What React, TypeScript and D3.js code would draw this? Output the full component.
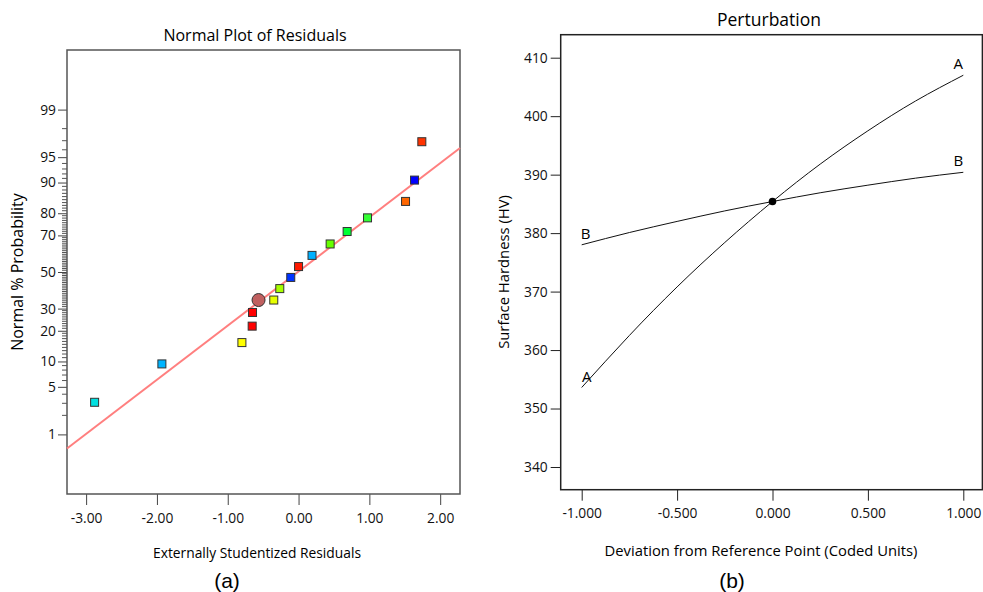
import React, { useEffect, useRef } from "react";
import * as d3 from "d3";

// ---- (a) Normal plot of residuals ----
const residuals = [-2.88, -1.93, -0.8, -0.655, -0.65, -0.35, -0.265, -0.11, 0.0, 0.19, 0.446, 0.686, 0.974, 1.511, 1.638, 1.741];
const normalProb = [3.1, 9.4, 15.6, 21.9, 28.1, 34.4, 40.6, 46.9, 53.1, 59.4, 65.6, 71.9, 78.1, 84.4, 90.6, 96.9];
const pointColors = [
  "#00e0e0", "#00b4ff", "#ffff00", "#ff0000", "#ff0000", "#e6ff00", "#a8ff00", "#0033ff",
  "#ff1a00", "#00b0ff", "#66ff00", "#00ff33", "#33ff33", "#ff6600", "#0000ff", "#ff3300",
];
const highlightResidual = -0.565;
const highlightProb = 34.4;
const fitMean = -0.01;
const fitSd = 1.29;
const residualTicks = [-3, -2, -1, 0, 1, 2];
const probTicks = [1, 5, 10, 20, 30, 50, 70, 80, 90, 95, 99];

// ---- (b) Perturbation ----
const deviation = [-1, -0.75, -0.5, -0.25, 0, 0.25, 0.5, 0.75, 1];
const hardnessA = [353.6, 362.5, 370.8, 378.4, 385.4, 391.8, 397.5, 402.6, 407.0];
const hardnessB = [378.0, 380.1, 382.0, 383.8, 385.4, 386.9, 388.2, 389.4, 390.4];
const refHardness = 385.4;
const hardnessTicks = [340, 350, 360, 370, 380, 390, 400, 410];
const deviationTicks = [-1, -0.5, 0, 0.5, 1];

const FONT = "'Open Sans', sans-serif";

// plain hyphen instead of d3's unicode minus
const fmt = (spec: string) => {
  const f = d3.format(spec);
  return (v: d3.NumberValue) => f(v).replace("\u2212", "-");
};

// inverse normal cdf (Acklam)
function probit(p: number): number {
  const a = [-3.969683028665376e1, 2.209460984245205e2, -2.759285104469687e2, 1.38357751867269e2, -3.066479806614716e1, 2.506628277459239];
  const b = [-5.447609879822406e1, 1.615858368580409e2, -1.556989798598866e2, 6.680131188771972e1, -1.328068155288572e1];
  const c = [-7.784894002430293e-3, -3.223964580411365e-1, -2.400758277161838, -2.549732539343734, 4.374664141464968, 2.938163982698783];
  const d = [7.784695709041462e-3, 3.224671290700398e-1, 2.445134137142996, 3.754408661907416];
  const pl = 0.02425;
  if (p < pl) {
    const q = Math.sqrt(-2 * Math.log(p));
    return (((((c[0] * q + c[1]) * q + c[2]) * q + c[3]) * q + c[4]) * q + c[5]) / ((((d[0] * q + d[1]) * q + d[2]) * q + d[3]) * q + 1);
  }
  if (p > 1 - pl) {
    const q = Math.sqrt(-2 * Math.log(1 - p));
    return -(((((c[0] * q + c[1]) * q + c[2]) * q + c[3]) * q + c[4]) * q + c[5]) / ((((d[0] * q + d[1]) * q + d[2]) * q + d[3]) * q + 1);
  }
  const q = p - 0.5;
  const r = q * q;
  return ((((((a[0] * r + a[1]) * r + a[2]) * r + a[3]) * r + a[4]) * r + a[5]) * q) /
    (((((b[0] * r + b[1]) * r + b[2]) * r + b[3]) * r + b[4]) * r + 1);
}

const App = () => {
  const svgRef = useRef<SVGSVGElement>(null);

  useEffect(() => {
    const svg = d3.select(svgRef.current);
    svg.selectAll("*").remove();

    // ================= (a) =================
    const L = { left: 67, right: 460, top: 50, bottom: 494 };
    const x = d3.scaleLinear().domain([-3.27, 2.28]).range([L.left, L.right]);
    const z = d3.scaleLinear().domain([-3.18, 3.18]).range([L.bottom, L.top]);
    const yProb = (p: number) => z(probit(p / 100));

    const ga = svg.append("g");

    ga.append("text")
      .attr("x", 255).attr("y", 40.5)
      .attr("text-anchor", "middle")
      .attr("font-family", FONT).attr("font-size", 16)
      .text("Normal Plot of Residuals");

    // minor ticks every 1%
    const minor = d3.range(2, 99).filter((p) => !probTicks.includes(p));
    ga.selectAll(".minor")
      .data(minor)
      .enter()
      .append("line")
      .attr("x1", L.left - 5).attr("x2", L.left)
      .attr("y1", (p) => yProb(p)).attr("y2", (p) => yProb(p))
      .attr("stroke", "#555").attr("stroke-width", 1);

    const yAxisA = ga.append("g")
      .attr("transform", `translate(${L.left},0)`)
      .call(
        d3.axisLeft(z)
          .tickValues(probTicks.map((p) => probit(p / 100)))
          .tickFormat((_, i) => String(probTicks[i]))
          .tickSize(9)
          .tickPadding(2)
      );
    yAxisA.select(".domain").remove();
    yAxisA.selectAll("line").attr("stroke", "#444");
    yAxisA.selectAll("text").attr("font-family", FONT).attr("font-size", 13.8).attr("fill", "#111");

    const xAxisA = ga.append("g")
      .attr("transform", `translate(0,${L.bottom})`)
      .call(
        d3.axisBottom(x)
          .tickValues(residualTicks)
          .tickFormat(fmt(".2f"))
          .tickSize(11)
          .tickPadding(8)
      );
    xAxisA.select(".domain").remove();
    xAxisA.selectAll("line").attr("stroke", "#444");
    xAxisA.selectAll("text").attr("font-family", FONT).attr("font-size", 13.8).attr("fill", "#111");

    ga.append("rect")
      .attr("x", L.left).attr("y", L.top)
      .attr("width", L.right - L.left).attr("height", L.bottom - L.top)
      .attr("fill", "none").attr("stroke", "#555").attr("stroke-width", 1.5);

    // fitted normal line
    const [r0, r1] = x.domain();
    ga.append("line")
      .attr("x1", x(r0)).attr("y1", z((r0 - fitMean) / fitSd))
      .attr("x2", x(r1)).attr("y2", z((r1 - fitMean) / fitSd))
      .attr("stroke", "#ff7f7f").attr("stroke-width", 2);

    ga.selectAll(".pt")
      .data(residuals)
      .enter()
      .append("rect")
      .attr("x", (d) => x(d) - 4)
      .attr("y", (_, i) => yProb(normalProb[i]) - 4)
      .attr("width", 8).attr("height", 8)
      .attr("fill", (_, i) => pointColors[i])
      .attr("stroke", "#333").attr("stroke-width", 1);

    ga.append("circle")
      .attr("cx", x(highlightResidual)).attr("cy", yProb(highlightProb))
      .attr("r", 6.5)
      .attr("fill", "#c06060").attr("stroke", "#333").attr("stroke-width", 1);

    ga.append("text")
      .attr("transform", `translate(22.5,272) rotate(-90)`)
      .attr("text-anchor", "middle")
      .attr("font-family", FONT).attr("font-size", 16)
      .text("Normal % Probability");

    ga.append("text")
      .attr("x", 257).attr("y", 558)
      .attr("text-anchor", "middle")
      .attr("font-family", FONT).attr("font-size", 13.8)
      .text("Externally Studentized Residuals");

    ga.append("text")
      .attr("x", 227).attr("y", 588)
      .attr("text-anchor", "middle")
      .attr("font-family", "'Liberation Sans', Arial, sans-serif").attr("font-size", 21)
      .text("(a)");

    // ================= (b) =================
    const R = { left: 560.7, right: 982.4, top: 34.7, bottom: 489.7 };
    const xb = d3.scaleLinear().domain([-1, 1]).range([581.7, 963.3]);
    const yb = d3.scaleLinear().domain([340, 410]).range([467, 57.7]);

    const gb = svg.append("g");

    gb.append("text")
      .attr("x", 769).attr("y", 25.5)
      .attr("text-anchor", "middle")
      .attr("font-family", FONT).attr("font-size", 17.5)
      .text("Perturbation");

    const yAxisB = gb.append("g")
      .attr("transform", `translate(${R.left},0)`)
      .call(d3.axisLeft(yb).tickValues(hardnessTicks).tickSize(10).tickPadding(3));
    yAxisB.select(".domain").remove();
    yAxisB.selectAll("line").attr("stroke", "#222");
    yAxisB.selectAll("text").attr("font-family", FONT).attr("font-size", 13.8).attr("fill", "#111");

    const xAxisB = gb.append("g")
      .attr("transform", `translate(0,${R.bottom})`)
      .call(d3.axisBottom(xb).tickValues(deviationTicks).tickFormat(fmt(".3f")).tickSize(11).tickPadding(8));
    xAxisB.select(".domain").remove();
    xAxisB.selectAll("line").attr("stroke", "#222");
    xAxisB.selectAll("text").attr("font-family", FONT).attr("font-size", 13.8).attr("fill", "#111");

    gb.append("rect")
      .attr("x", R.left).attr("y", R.top)
      .attr("width", R.right - R.left).attr("height", R.bottom - R.top)
      .attr("fill", "none").attr("stroke", "#222").attr("stroke-width", 1.5);

    const line = d3.line<number>()
      .x((_, i) => xb(deviation[i]))
      .y((d) => yb(d))
      .curve(d3.curveNatural);

    [hardnessA, hardnessB].forEach((series) => {
      gb.append("path")
        .attr("d", line(series))
        .attr("fill", "none").attr("stroke", "#111").attr("stroke-width", 1);
    });

    gb.append("circle")
      .attr("cx", xb(0)).attr("cy", yb(refHardness))
      .attr("r", 3.8).attr("fill", "#000");

    const n = deviation.length - 1;
    const curveLabels = [
      { t: "A", x: xb(deviation[n]) - 5, y: yb(hardnessA[n]) - 6 },
      { t: "B", x: xb(deviation[n]) - 5, y: yb(hardnessB[n]) - 6 },
      { t: "B", x: xb(deviation[0]) + 4, y: yb(hardnessB[0]) - 6 },
      { t: "A", x: xb(deviation[0]) + 5, y: yb(hardnessA[0]) - 5 },
    ];
    gb.selectAll(".clab")
      .data(curveLabels)
      .enter()
      .append("text")
      .attr("x", (d) => d.x).attr("y", (d) => d.y)
      .attr("text-anchor", "middle")
      .attr("font-family", FONT).attr("font-size", 15)
      .text((d) => d.t);

    gb.append("text")
      .attr("transform", `translate(509,272) rotate(-90)`)
      .attr("text-anchor", "middle")
      .attr("font-family", FONT).attr("font-size", 14.8)
      .text("Surface Hardness (HV)");

    gb.append("text")
      .attr("x", 761).attr("y", 555.5)
      .attr("text-anchor", "middle")
      .attr("font-family", FONT).attr("font-size", 14.8)
      .text("Deviation from Reference Point (Coded Units)");

    gb.append("text")
      .attr("x", 732).attr("y", 588)
      .attr("text-anchor", "middle")
      .attr("font-family", "'Liberation Sans', Arial, sans-serif").attr("font-size", 21)
      .text("(b)");
  }, []);

  return (
    <svg
      ref={svgRef}
      width={983}
      height={592}
      style={{ position: "absolute", left: 0, top: 0, background: "#fff" }}
    />
  );
};

export default App;
